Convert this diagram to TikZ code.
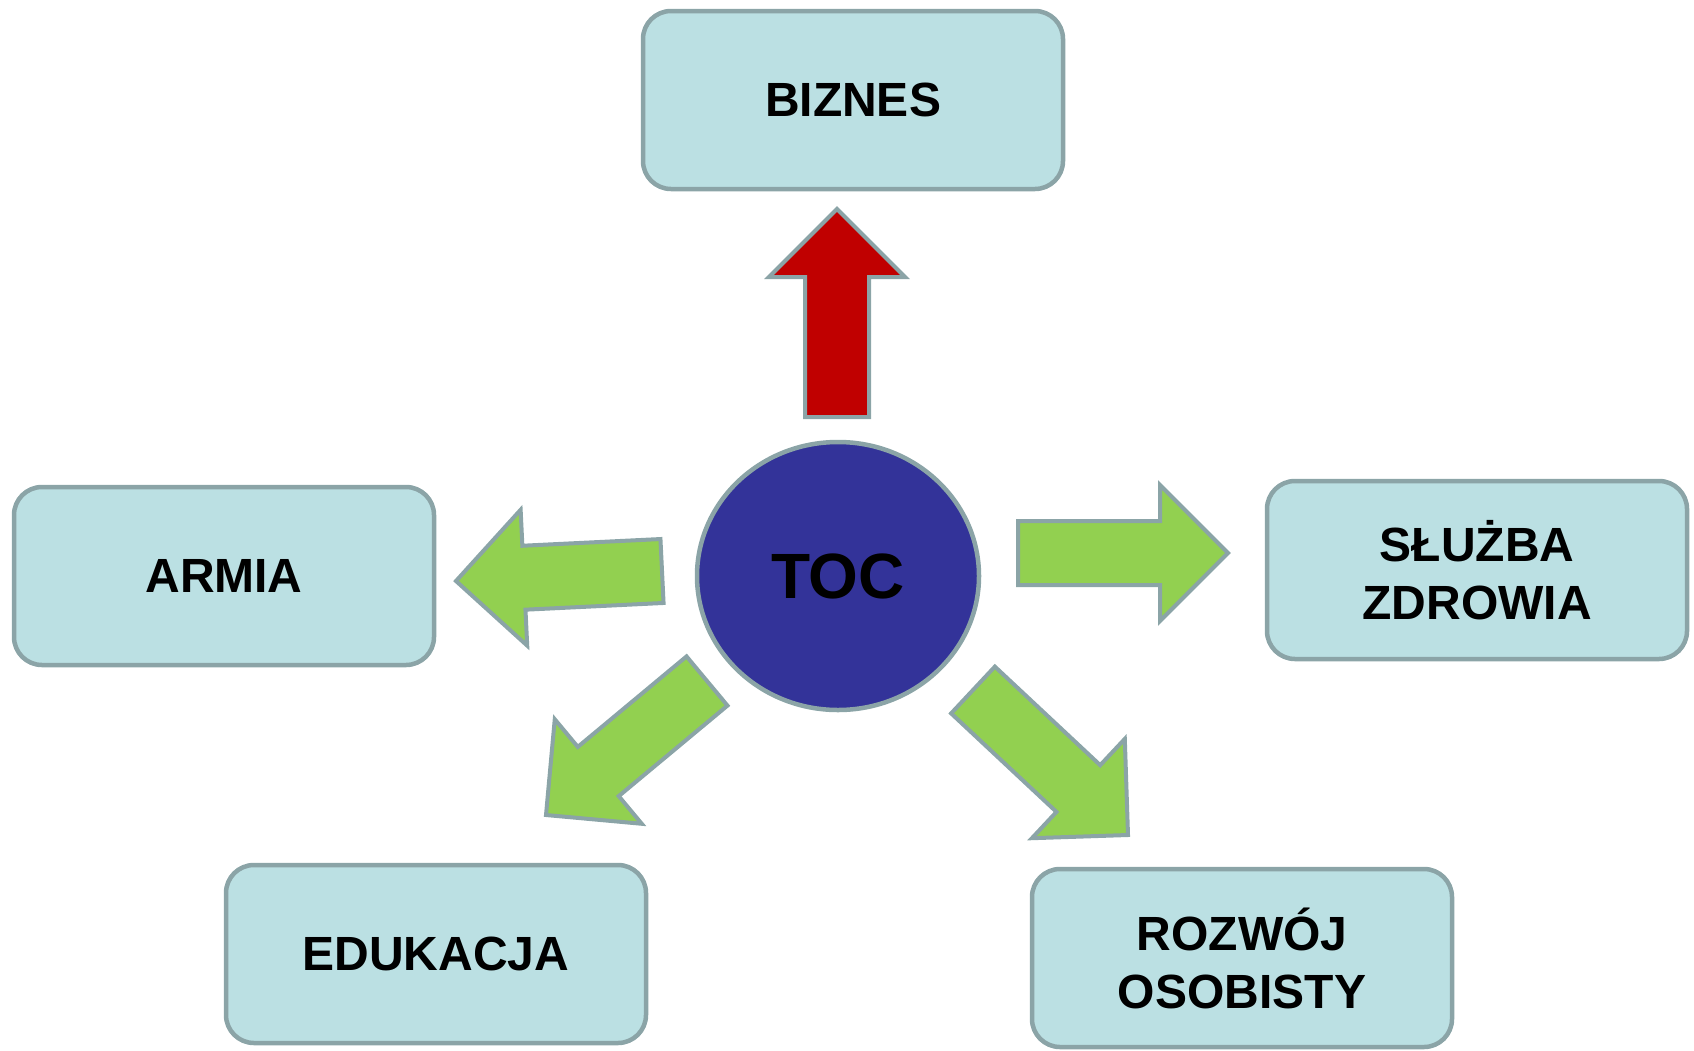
\documentclass[tikz,border=0pt]{standalone}
\usepackage{fontspec}
\setmainfont{Liberation Sans}
\usetikzlibrary{shapes.geometric,calc}

\definecolor{boxfill}{RGB}{187,224,227}
\definecolor{edgegray}{RGB}{139,164,167}
\definecolor{arrowgreen}{RGB}{146,208,80}
\definecolor{arrowred}{RGB}{192,0,0}
\definecolor{tocblue}{RGB}{51,51,153}

% block arrow: #1 name, #2 style, #3 tail centre, #4 tip
\newcommand{\tocarrow}[4]{%
  \coordinate (#1-h) at ($(#4)!68pt!(#3)$);
  \draw[#2] ($(#3)!32pt!90:(#4)$) -- ($(#1-h)!32pt!90:(#4)$)
    -- ($(#1-h)!68pt!90:(#4)$) -- (#4) -- ($(#1-h)!68pt!-90:(#4)$)
    -- ($(#1-h)!32pt!-90:(#4)$) -- ($(#3)!32pt!-90:(#4)$) -- cycle;
}

\begin{document}
\begin{tikzpicture}[x=1pt,y=-1pt,
  area/.style={draw=edgegray, line width=4.5pt, fill=boxfill, rounded corners=28pt,
    minimum width=420pt, minimum height=178pt, align=center,
    font=\fontsize{48}{58}\selectfont\bfseries},
  blockgreen/.style={draw=edgegray, line width=4pt, fill=arrowgreen, line join=miter},
  blockred/.style={draw=edgegray, line width=4pt, fill=arrowred, line join=miter}]
\useasboundingbox (0,0) rectangle (1694,1050);

% application areas
\node[area] (biznes) at (853,100) {BIZNES};
\node[area] (armia) at (224,576) {ARMIA};
\node[area] (zdrowie) at (1477,570) {SŁUŻBA\\ZDROWIA};
\node[area] (edukacja) at (436,954) {EDUKACJA};
\node[area] (rozwoj) at (1242,958) {ROZWÓJ\\OSOBISTY};

% centre
\node[ellipse, draw=edgegray, line width=4.5pt, fill=tocblue, inner sep=0pt,
  minimum width=282pt, minimum height=268pt,
  font=\fontsize{64}{70}\selectfont\bfseries] (toc) at (838,576) {TOC};

% arrow ends
\coordinate (upT) at (837,417);   \coordinate (upP) at (837,209);
\coordinate (lfT) at (662,571);   \coordinate (lfP) at (456,581);
\coordinate (rtT) at (1018,553);  \coordinate (rtP) at (1228,553);
\coordinate (dlT) at (707,681);   \coordinate (dlP) at (546,815);
\coordinate (drT) at (973,690);   \coordinate (drP) at (1128,835);

\tocarrow{up}{blockred}{upT}{upP}
\tocarrow{lf}{blockgreen}{lfT}{lfP}
\tocarrow{rt}{blockgreen}{rtT}{rtP}
\tocarrow{dl}{blockgreen}{dlT}{dlP}
\tocarrow{dr}{blockgreen}{drT}{drP}
\end{tikzpicture}
\end{document}
